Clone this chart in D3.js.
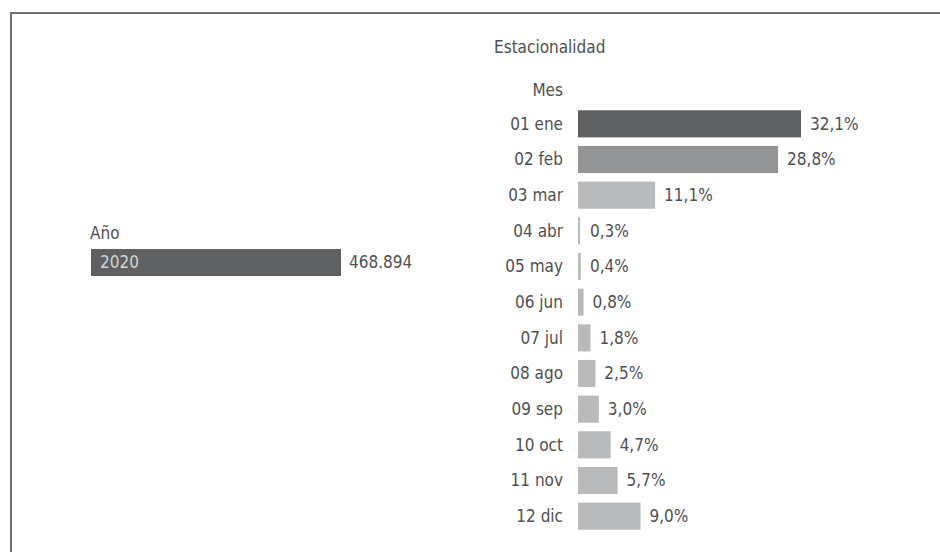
<!DOCTYPE html>
<html>
<head>
<meta charset="utf-8">
<script src="https://cdn.jsdelivr.net/npm/d3@7"></script>
<style>
  body { margin: 0; background: #fff; }
  text { font-family: "DejaVu Sans Condensed", "Liberation Sans Narrow", sans-serif; font-size: 17px; fill: #505050; }
</style>
</head>
<body>
<div id="chart"></div>
<script>
// Year total
var years = ["2020"];
var yearValues = [468894];

// Seasonality by month (%)
var months = ["01 ene", "02 feb", "03 mar", "04 abr", "05 may", "06 jun",
              "07 jul", "08 ago", "09 sep", "10 oct", "11 nov", "12 dic"];
var monthValues = [32.1, 28.8, 11.1, 0.3, 0.4, 0.8, 1.8, 2.5, 3.0, 4.7, 5.7, 9.0];

var w = 940, h = 552;

var svg = d3.select("#chart")
  .append("svg")
  .attr("width", w)
  .attr("height", h);

// frame (only top and left show)
svg.append("path")
  .attr("d", "M11," + h + "V13H" + w)
  .attr("fill", "none")
  .attr("stroke", "#707070")
  .attr("stroke-width", 2);

var fmtPct = function(v) { return d3.format(".1f")(v).replace(".", ",") + "%"; };
var fmtNum = function(v) { return d3.format(",")(v).replace(/,/g, "."); };

//Left panel: year
var xYear = d3.scaleLinear().domain([0, yearValues[0]]).range([91, 341]);
var yYear = d3.scaleBand().domain(years).range([249, 276]);

svg.append("text")
  .attr("x", 90).attr("y", 233)
  .attr("dy", "0.35em")
  .text("Año");

svg.selectAll("rect.year")
  .data(years)
  .enter()
  .append("rect")
  .attr("class", "year")
  .attr("x", xYear(0))
  .attr("y", function(d) { return yYear(d); })
  .attr("width", function(d, i) { return xYear(yearValues[i]) - xYear(0); })
  .attr("height", yYear.bandwidth())
  .attr("fill", "#5f6062");

svg.selectAll("text.yearlab")
  .data(years)
  .enter()
  .append("text")
  .attr("x", xYear(0) + 9)
  .attr("y", function(d) { return yYear(d) + yYear.bandwidth() / 2; })
  .attr("dy", "0.35em")
  .style("fill", "#d4d4d4")
  .text(function(d) { return d; });

svg.selectAll("text.yearval")
  .data(years)
  .enter()
  .append("text")
  .attr("x", function(d, i) { return xYear(yearValues[i]) + 8; })
  .attr("y", function(d) { return yYear(d) + yYear.bandwidth() / 2; })
  .attr("dy", "0.35em")
  .text(function(d, i) { return fmtNum(yearValues[i]); });

//Right panel: months
var x = d3.scaleLinear().domain([0, 32.1]).range([578, 801]);
var y = d3.scaleBand().domain(months).range([106, 534]).paddingInner(0.24).paddingOuter(0.12);

svg.append("text")
  .attr("x", 494).attr("y", 47)
  .attr("dy", "0.35em")
  .text("Estacionalidad");

svg.append("text")
  .attr("x", 563).attr("y", 90)
  .attr("dy", "0.35em")
  .attr("text-anchor", "end")
  .text("Mes");

svg.selectAll("text.mlab")
  .data(months)
  .enter()
  .append("text")
  .attr("class", "mlab")
  .attr("x", 563)
  .attr("y", function(d) { return y(d) + y.bandwidth() / 2; })
  .attr("dy", "0.35em")
  .attr("text-anchor", "end")
  .text(function(d) { return d; });

svg.selectAll("rect.month")
  .data(months)
  .enter()
  .append("rect")
  .attr("class", "month")
  .attr("x", x(0))
  .attr("y", function(d) { return y(d); })
  .attr("width", function(d, i) { return x(monthValues[i]) - x(0); })
  .attr("height", y.bandwidth())
  .attr("fill", function(d, i) {
    if (i == 0) return "#5f6062";
    if (i == 1) return "#939496";
    return "#b9babc";
  });

svg.selectAll("text.mval")
  .data(months)
  .enter()
  .append("text")
  .attr("class", "mval")
  .attr("x", function(d, i) { return Math.max(x(monthValues[i]), x(0) + 3) + 9; })
  .attr("y", function(d) { return y(d) + y.bandwidth() / 2; })
  .attr("dy", "0.35em")
  .text(function(d, i) { return fmtPct(monthValues[i]); });
</script>
</body>
</html>
